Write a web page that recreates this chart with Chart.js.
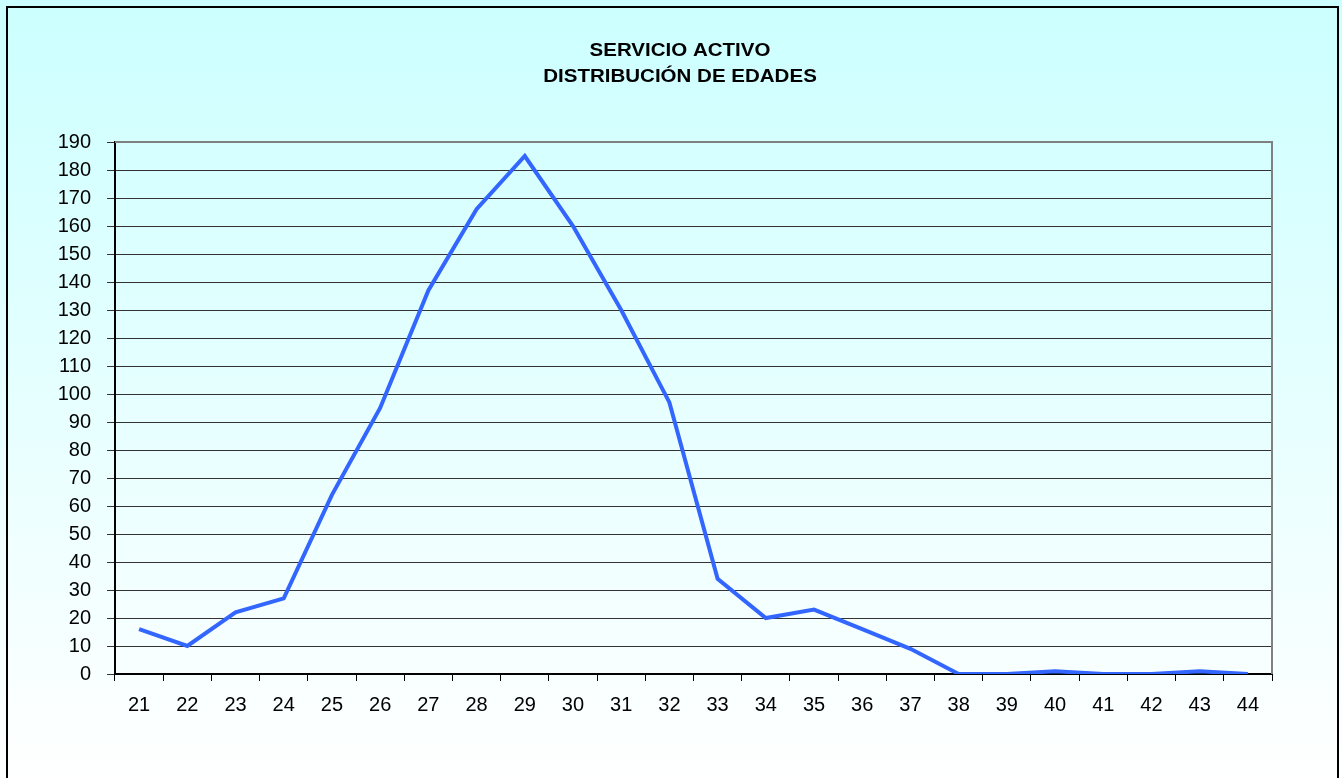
<!DOCTYPE html>
<html>
<head>
<meta charset="utf-8">
<script src="https://cdn.jsdelivr.net/npm/chart.js@4/dist/chart.umd.min.js"></script>
<style>
  html, body { margin: 0; padding: 0; background: #fff; }
  #wrap { width: 1342px; height: 778px; position: relative; }
</style>
</head>
<body>
<div id="wrap"><canvas id="chart"></canvas></div>
<script>
const edades = ["21","22","23","24","25","26","27","28","29","30","31","32","33","34","35","36","37","38","39","40","41","42","43","44"];
const cantidad = [16, 10, 22, 27, 64, 95, 137, 166, 185, 160, 130, 97, 34, 20, 23, 16, 9, 0, 0, 1, 0, 0, 1, 0];
const titulo = ["SERVICIO ACTIVO", "DISTRIBUCIÓN DE EDADES"];

// fondo degradado, marco exterior, borde gris del área y título
const fondo = {
  id: "fondo",
  beforeDraw(chart) {
    const ctx = chart.ctx;
    const g = ctx.createLinearGradient(0, 0, 0, chart.height);
    g.addColorStop(0, "#ccffff");
    g.addColorStop(1, "#ffffff");
    ctx.save();
    ctx.fillStyle = g;
    ctx.fillRect(0, 0, chart.width, chart.height);
    ctx.strokeStyle = "#000";
    ctx.lineWidth = 2;
    ctx.strokeRect(7, 7, 1331, 800);
    // título (algo ensanchado, como en el original)
    ctx.fillStyle = "#000";
    ctx.font = "bold 18px 'Liberation Sans', Arial";
    ctx.textAlign = "center";
    ctx.textBaseline = "middle";
    titulo.forEach((t, i) => {
      ctx.save();
      ctx.translate(680, 51 + i * 26);
      ctx.scale(1.14, 1);
      ctx.fillText(t, 0, 0);
      ctx.restore();
    });
    ctx.restore();
  },
  beforeDatasetsDraw(chart) {
    const a = chart.chartArea;
    const ctx = chart.ctx;
    ctx.save();
    ctx.strokeStyle = "#808080";
    ctx.lineWidth = 2;
    ctx.beginPath();
    ctx.moveTo(a.left, a.top);
    ctx.lineTo(a.right, a.top);
    ctx.lineTo(a.right, a.bottom);
    ctx.stroke();
    ctx.restore();
  }
};

new Chart(document.getElementById("chart"), {
  type: "line",
  data: {
    labels: edades,
    datasets: [{
      data: cantidad,
      borderColor: "#3366ff",
      borderWidth: 4,
      pointRadius: 0,
      tension: 0,
      fill: false
    }]
  },
  options: {
    responsive: true,
    maintainAspectRatio: false,
    animation: false,
    layout: { padding: { left: 0, right: 70, top: 142, bottom: 64 } },
    plugins: {
      legend: { display: false },
      tooltip: { enabled: false },
      title: { display: false }
    },
    scales: {
      x: {
        offset: true,
        afterFit(s) { s.height = 40; },
        grid: { offset: true, drawOnChartArea: false, color: "#000", tickLength: 7, lineWidth: 1 },
        border: { color: "#000", width: 2 },
        ticks: { color: "#000", padding: 12, maxRotation: 0, autoSkip: false,
                 font: { family: "Liberation Sans, Arial", size: 20 } }
      },
      y: {
        min: 0,
        max: 190,
        afterFit(s) { s.width = 115; },
        grid: { color: "#333", tickLength: 8, lineWidth: 1 },
        border: { color: "#000", width: 2 },
        ticks: { stepSize: 10, color: "#000", padding: 16,
                 font: { family: "Liberation Sans, Arial", size: 20 } }
      }
    }
  },
  plugins: [fondo]
});
</script>
</body>
</html>
